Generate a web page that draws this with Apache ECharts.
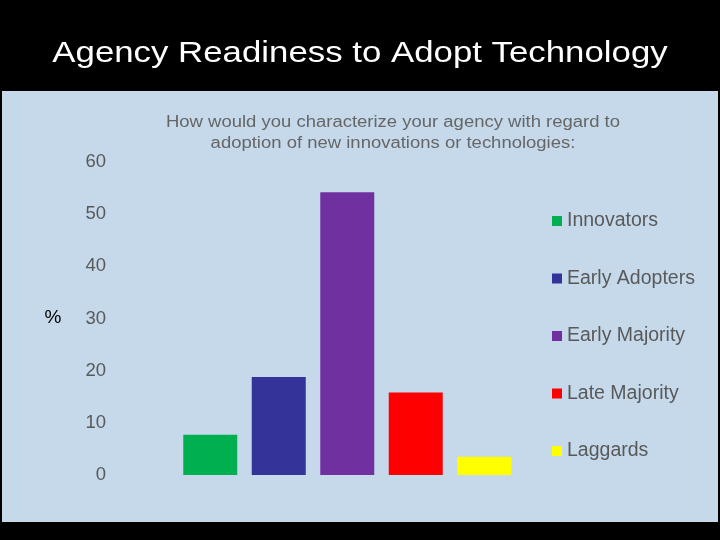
<!DOCTYPE html>
<html>
<head>
<meta charset="utf-8">
<script src="https://cdn.jsdelivr.net/npm/echarts@6/dist/echarts.min.js"></script>
<style>html,body{margin:0;padding:0;background:#000;}#c{width:720px;height:540px;}</style>
</head>
<body>
<div id="c"></div>
<script>
const categories = ['Innovators', 'Early Adopters', 'Early Majority', 'Late Majority', 'Laggards'];
const values = [7.7, 18.8, 54.2, 15.8, 3.5];
const colors = ['#00b050', '#333399', '#7030a0', '#ff0000', '#ffff00'];
const yTicks = [0, 10, 20, 30, 40, 50, 60];
const titleText = 'Agency Readiness to Adopt Technology';
const subtitleText = 'How would you characterize your agency with regard to\nadoption of new innovations or technologies:';

const chart = echarts.init(document.getElementById('c'), null, {renderer: 'canvas'});
const FONT = '"Liberation Sans", Arial, sans-serif';

const series = categories.map((name, i) => ({
  name: name,
  type: 'bar',
  stack: 'all',
  barWidth: 54,
  itemStyle: {color: colors[i]},
  data: categories.map((c, j) => (j === i ? values[i] : '-'))
}));

chart.setOption({
  backgroundColor: '#000000',
  animation: false,
  graphic: [
    {type: 'rect', z: -10, silent: true,
     shape: {x: 2, y: 91, width: 716, height: 431},
     style: {fill: '#c5d9eb'}},
    {type: 'text', x: 360, y: 54, scaleX: 1.18,
     style: {text: titleText, fill: '#ffffff', font: '29.5px ' + FONT,
             textAlign: 'center', textVerticalAlign: 'middle'}},
    {type: 'text', x: 393, y: 133, scaleX: 1.17,
     style: {text: subtitleText, fill: '#666666', font: '15.8px ' + FONT,
             lineHeight: 21.5, textAlign: 'center', textVerticalAlign: 'middle'}},
    {type: 'text', x: 53, y: 318,
     style: {text: '%', fill: '#000000', font: '19px ' + FONT,
             textAlign: 'center', textVerticalAlign: 'middle'}}
  ],
  legend: {
    orient: 'vertical',
    left: 552,
    top: 211,
    padding: 0,
    icon: 'rect',
    itemWidth: 10,
    itemHeight: 10,
    itemGap: 37.5,
    textStyle: {color: '#595959', fontSize: 19.5, fontFamily: FONT, lineHeight: 20},
    data: categories
  },
  grid: {left: 176, right: 201.5, top: 162, bottom: 65, containLabel: false},
  xAxis: {
    type: 'category',
    data: categories,
    axisLine: {show: false},
    axisTick: {show: false},
    axisLabel: {show: false},
    splitLine: {show: false}
  },
  yAxis: {
    type: 'value',
    min: yTicks[0],
    max: yTicks[yTicks.length - 1],
    interval: 10,
    axisLine: {show: false},
    axisTick: {show: false},
    splitLine: {show: false},
    axisLabel: {margin: 70, color: '#595959', fontSize: 18.5, fontFamily: FONT}
  },
  series: series
});
</script>
</body>
</html>
